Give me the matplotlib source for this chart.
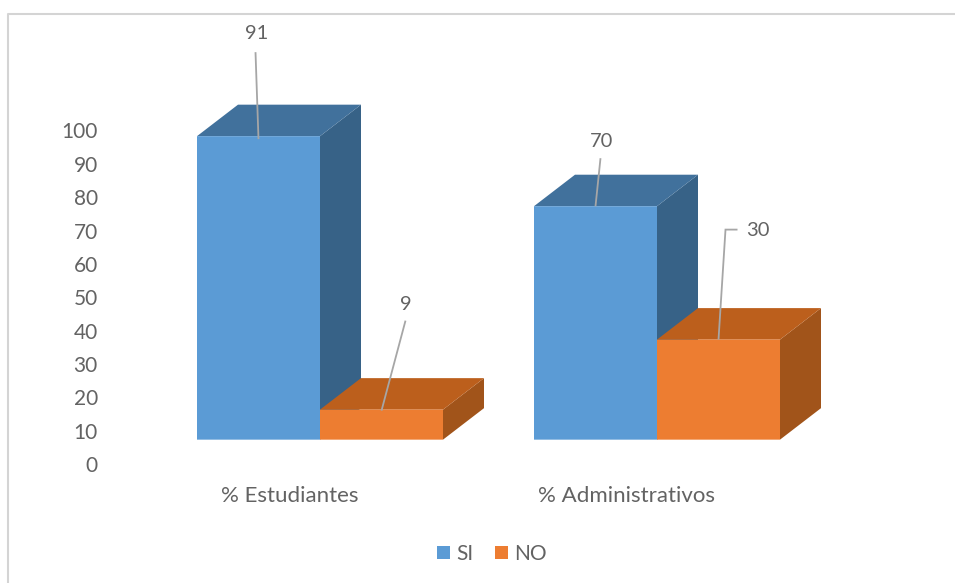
import numpy as np
import matplotlib as mpl
mpl.use("Agg")
import matplotlib.pyplot as plt
from matplotlib.lines import Line2D
from matplotlib.patches import Patch

mpl.rcParams["font.family"] = ["Lato", "DejaVu Sans"]

W, H = 955, 583

# ===== Data =====
categories = ["% Estudiantes", "% Administrativos"]
series_names = ["SI", "NO"]
si_values = [91, 70]
no_values = [9, 30]
y_ticks = [0, 10, 20, 30, 40, 50, 60, 70, 80, 90, 100]

# ===== Params =====
px_per_x = 337.0   # one category step in pixels
px_per_y = 3.335   # one percent in pixels
floor = 7.3        # front faces stand above the zero tick
bar_w = 123 / px_per_x
depth_x = 41 / px_per_x
depth_y = 31.5 / px_per_y
text_c = "#636363"
line_c = "#a6a6a6"
colors = {
    "SI": ("#5b9bd5", "#41719c", "#376287"),
    "NO": ("#ed7d31", "#bc5f1c", "#a1541a"),
}

fig = plt.figure(figsize=(W / 100, H / 100), dpi=100)
left, right, top, bottom = 118, 830, 130.5, 464
ax = fig.add_axes([left / W, 1 - bottom / H, (right - left) / W, (bottom - top) / H])
ax.set_xlim((left - 320) / px_per_x, (right - 320) / px_per_x)
ax.set_ylim(0, (bottom - top) / px_per_y)


def box(x0, value, name):
    front, roof, side = colors[name]
    x1 = x0 + bar_w
    y1 = floor + value
    ax.fill([x1, x1 + depth_x, x1 + depth_x, x1],
            [floor, floor + depth_y, y1 + depth_y, y1],
            color=side, lw=0, clip_on=False, zorder=2)
    ax.fill([x0, x0 + depth_x, x1 + depth_x, x1],
            [y1, y1 + depth_y, y1 + depth_y, y1],
            color=roof, lw=0, clip_on=False, zorder=2)
    ax.bar(x0, value, bar_w, bottom=floor, align="edge", color=front, lw=0,
           clip_on=False, zorder=2, snap=False)


def label(x0, value, path, text_off):
    # leader line runs from the roof edge of the bar up to the value
    cx = x0 + bar_w / 2
    cy = floor + value
    xs = [cx + p[0] / px_per_x for p in path]
    ys = [cy + p[1] / px_per_y for p in path]
    ax.plot(xs, ys, color=line_c, lw=1.3, clip_on=False, zorder=3,
            solid_capstyle="butt", solid_joinstyle="miter")
    ax.text(cx + text_off[0] / px_per_x, cy + text_off[1] / px_per_y, str(value),
            color=text_c, fontsize=14.5, ha="center", va="center", zorder=3)


x = np.arange(len(categories))
for i in x:
    box(i - bar_w, si_values[i], "SI")
    box(i, no_values[i], "NO")

label(0 - bar_w, si_values[0], [(0, -3), (-3, 84)], (-2, 103))
label(0, no_values[0], [(0, -1), (24, 89)], (24, 105))
label(1 - bar_w, si_values[1], [(0, 0), (5, 48)], (6, 65))
label(1, no_values[1], [(0, 0), (7, 110), (19, 110)], (39, 109))

# ===== Axes =====
for s in ax.spines.values():
    s.set_visible(False)
ax.patch.set_alpha(0)
ax.set_yticks(y_ticks)
ax.set_xticks(x - 30 / px_per_x, categories)
ax.tick_params(axis="both", length=0, colors=text_c)
ax.tick_params(axis="y", labelsize=15, pad=14.5)
ax.tick_params(axis="x", labelsize=16, pad=16)

# ===== Legend =====
handles = [Patch(color=colors[n][0], lw=0) for n in series_names]
fig.legend(handles, series_names, loc="center", bbox_to_anchor=(492 / W, 1 - 554 / H),
           ncol=2, frameon=False, fontsize=15, labelcolor=text_c,
           handlelength=0.62, handleheight=0.62, handletextpad=0.33, columnspacing=1.0)

# ===== Chart border =====
fig.add_artist(Line2D([7.5 / W, 7.5 / W, 1], [0, 1 - 14 / H, 1 - 14 / H],
                      color="#d4d4d4", lw=1.5))

fig.savefig("out.png", dpi=100)
